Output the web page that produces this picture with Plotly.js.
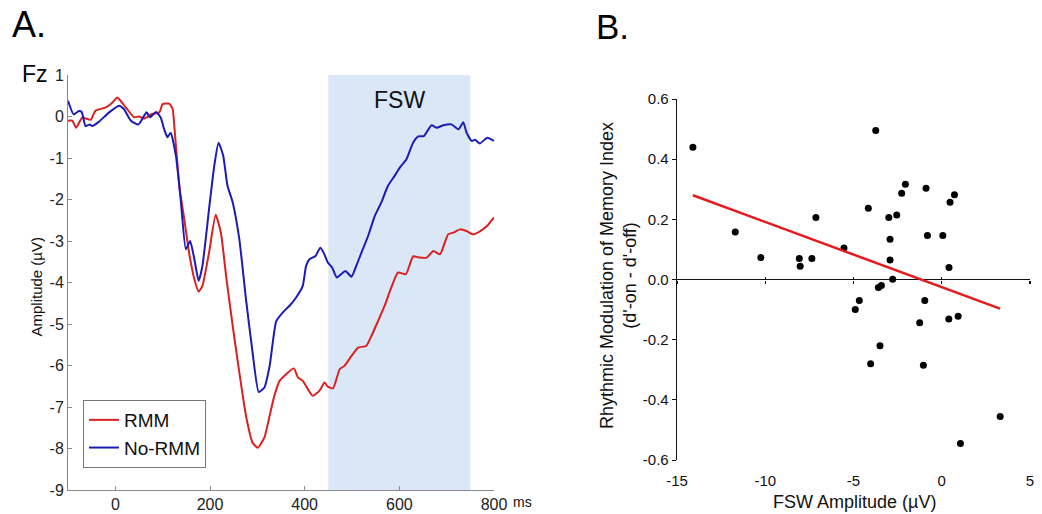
<!DOCTYPE html>
<html>
<head>
<meta charset="utf-8">
<script src="https://cdn.plot.ly/plotly-3.0.1.min.js"></script>
<style>html,body{margin:0;padding:0;background:#fff;}#chart{width:1042px;height:514px;}</style>
</head>
<body>
<div id="chart"></div>
<script>
// ---------- Panel A data (ERP at Fz) ----------
const timeRmm = [-100,-91,-83,-70,-52,-42,-20,-6,4,11,22,40,50,61,78,93,100,114,121,124,128,136,146,156,167,176,184,198,212,223,234,248,262,276,290,301,315,326,336,347,361,377,386,396,409,417,431,442,449,460,474,484,499,513,530,541,555,569,583,597,614,629,643,658,672,686,703,714,728,742,756,771,785,800];
const ampRmm  = [-0.1,-0.1,-0.27,-0.03,-0.08,0.14,0.22,0.34,0.46,0.38,0.22,-0.02,0.0,-0.05,0.06,0.10,0.30,0.31,0.18,-0.14,-0.71,-1.75,-2.5,-3.3,-3.92,-4.22,-4.08,-3.28,-2.37,-2.80,-3.84,-5.05,-6.17,-7.21,-7.86,-7.98,-7.73,-7.21,-6.73,-6.37,-6.21,-6.07,-6.29,-6.37,-6.61,-6.73,-6.61,-6.41,-6.51,-6.55,-6.09,-6.01,-5.77,-5.57,-5.53,-5.29,-4.93,-4.56,-4.12,-3.76,-3.80,-3.37,-3.40,-3.40,-3.24,-3.32,-2.84,-2.80,-2.72,-2.76,-2.84,-2.76,-2.64,-2.43];

const timeNoRmm = [-100,-88,-77,-71,-63,-54,-49,-35,-13,8,18,33,49,66,73,86,96,103,110,117,128,138,149,158,167,176,184,198,209,218,228,237,248,262,276,290,303,315,326,340,354,368,382,396,403,410,423,433,440,449,458,468,477,486,499,509,520,534,548,562,576,590,601,615,629,640,652,668,679,693,710,725,735,742,753,760,770,786,800];
const ampNoRmm  = [0.38,0.05,0.13,0.11,-0.23,-0.19,-0.23,-0.13,0.10,0.26,0.18,-0.10,-0.19,0.10,-0.02,0.11,-0.03,-0.3,-0.5,-0.39,-0.95,-1.99,-3.2,-3.0,-3.44,-3.96,-3.6,-2.23,-1.19,-0.63,-0.95,-1.67,-2.07,-2.96,-4.4,-5.69,-6.64,-6.53,-6.01,-4.93,-4.72,-4.56,-4.36,-4.08,-3.6,-3.44,-3.36,-3.16,-3.28,-3.52,-3.64,-3.88,-3.80,-3.72,-3.86,-3.60,-3.28,-2.88,-2.40,-2.07,-1.67,-1.43,-1.23,-1.03,-0.63,-0.48,-0.47,-0.21,-0.27,-0.21,-0.19,-0.31,-0.14,-0.39,-0.59,-0.56,-0.65,-0.51,-0.59];

const fswWindow = [450, 750];
const seriesNames = ["RMM", "No-RMM"];

const aXTickVals = [0, 200, 400, 600, 800];
const aYTickVals = [-9,-8,-7,-6,-5,-4,-3,-2,-1,0,1];
const aYTickText = ["-9","-8","-7","-6","-5","-4","-3","-2","-1","0","1"];

// ---------- Panel B data (scatter) ----------
const fswAmp   = [-14.1,-3.74,-11.7,-10.25,-8.07,-8.02,-7.36,-7.13,-5.54,-4.16,-3.0,-2.55,-2.93,-2.93,-2.78,-2.27,-2.06,-0.89,-0.81,0.06,0.47,0.72,0.41,-3.59,-3.42,-4.67,-4.9,-3.5,-4.03,-0.96,-1.25,-1.04,0.40,0.93,3.31,1.06];
const rmmIndex = [0.44,0.495,0.158,0.073,0.07,0.044,0.07,0.206,0.105,0.237,0.206,0.214,0.134,0.065,0.001,0.287,0.317,0.303,0.146,0.146,0.257,0.282,0.04,-0.027,-0.02,-0.07,-0.10,-0.22,-0.28,-0.07,-0.144,-0.285,-0.131,-0.122,-0.455,-0.545];
const fitX = [-14.1, 3.3];
const fitY = [0.28, -0.097];

const bXTickVals = [-15,-10,-5,0,5];
const bXTickText = ["-15","-10","-5","0","5"];
const bYTickVals = [-0.6,-0.4,-0.2,0,0.2,0.4,0.6];
const bYTickText = ["-0.6","-0.4","-0.2","0.0","0.2","0.4","0.6"];

// ---------- Build ----------
const FONT = "Liberation Sans, Arial, Helvetica, sans-serif";
const W = 1042, H = 514;
const px = v => v / W;
const py = v => 1 - v / H;

const traces = [
  {x: timeRmm, y: ampRmm, type: "scatter", mode: "lines", name: seriesNames[0],
   line: {color: "#dc1f1f", width: 2, shape: "spline", smoothing: 0.5}, xaxis: "x", yaxis: "y"},
  {x: timeNoRmm, y: ampNoRmm, type: "scatter", mode: "lines", name: seriesNames[1],
   line: {color: "#1b1bb5", width: 2, shape: "spline", smoothing: 0.5}, xaxis: "x", yaxis: "y"},
  {x: fswAmp, y: rmmIndex, type: "scatter", mode: "markers", showlegend: false,
   marker: {color: "#000", size: 7}, xaxis: "x2", yaxis: "y2"},
  {x: fitX, y: fitY, type: "scatter", mode: "lines", showlegend: false,
   line: {color: "#e8191c", width: 2.5}, xaxis: "x2", yaxis: "y2"},
  {x: [], y: [], type: "scatter", mode: "markers", showlegend: false, xaxis: "x3", yaxis: "y2", hoverinfo: "skip"},
  {x: [], y: [], type: "scatter", mode: "markers", showlegend: false, xaxis: "x4", yaxis: "y2", hoverinfo: "skip"}
];

const aDomX = [px(68), px(494)];
const aDomY = [py(490), py(75)];
const bDomX = [px(677), px(1030)];
const bDomY = [py(460), py(99)];
const zeroPos = (bDomY[0] + bDomY[1]) / 2;

const gray = "#8a8a8a";
const layout = {
  width: W, height: H,
  margin: {l: 0, r: 0, t: 0, b: 0},
  paper_bgcolor: "#fff", plot_bgcolor: "rgba(0,0,0,0)",
  font: {family: FONT, color: "#222"},
  showlegend: true,
  legend: {x: px(83), y: py(400), xanchor: "left", yanchor: "top",
           bordercolor: "#777", borderwidth: 1, bgcolor: "#fff",
           font: {size: 19, family: FONT, color: "#111"}, tracegroupgap: 0},
  xaxis: {domain: aDomX, range: [-100, 800], anchor: "y", tickvals: aXTickVals,
          ticks: "inside", ticklen: 4, tickcolor: gray, showline: true, linecolor: gray, linewidth: 1,
          showgrid: false, zeroline: false, tickfont: {size: 16, color: "#222"}, fixedrange: true},
  yaxis: {domain: aDomY, range: [-9, 1], anchor: "x", tickvals: aYTickVals, ticktext: aYTickText,
          ticks: "inside", ticklen: 4, tickcolor: gray, showline: true, linecolor: gray, linewidth: 1,
          showgrid: false, zeroline: false, tickfont: {size: 16, color: "#222"}, fixedrange: true},
  xaxis2: {domain: bDomX, range: [-15, 5], anchor: "y2", tickvals: bXTickVals, ticktext: bXTickText,
           ticks: "", showline: false, showgrid: false, zeroline: false, ticklabelstandoff: 10,
           tickfont: {size: 15, color: "#111"}, fixedrange: true},
  yaxis2: {domain: bDomY, range: [-0.6, 0.6], anchor: "x2", tickvals: bYTickVals, ticktext: bYTickText,
           ticks: "outside", ticklen: 4, tickcolor: "#111", showline: true, linecolor: "#111", linewidth: 1.3,
           showgrid: false, zeroline: true, zerolinecolor: "#111", zerolinewidth: 1.3,
           tickfont: {size: 15, color: "#111"}, fixedrange: true},
  xaxis3: {overlaying: "x2", domain: bDomX, range: [-15, 5], anchor: "free", position: zeroPos,
           tickvals: bXTickVals, ticks: "outside", ticklen: 3, tickcolor: "#111", tickwidth: 1.2,
           showticklabels: false, showline: false, showgrid: false, zeroline: false, fixedrange: true},
  xaxis4: {overlaying: "x2", domain: bDomX, range: [-15, 5], anchor: "free", position: zeroPos,
           tickvals: bXTickVals, ticks: "inside", ticklen: 3, tickcolor: "#111", tickwidth: 1.2,
           showticklabels: false, showline: false, showgrid: false, zeroline: false, fixedrange: true},
  shapes: [
    {type: "rect", xref: "x", yref: "y domain", x0: fswWindow[0], x1: fswWindow[1], y0: 0, y1: 1,
     fillcolor: "#dae7f6", line: {width: 0}, layer: "below"}
  ],
  annotations: [
    {text: "A.", xref: "paper", yref: "paper", x: px(29), y: py(24), showarrow: false,
     xanchor: "center", yanchor: "middle", font: {size: 36, color: "#000"}},
    {text: "B.", xref: "paper", yref: "paper", x: px(612), y: py(26), showarrow: false,
     xanchor: "center", yanchor: "middle", font: {size: 35, color: "#000"}},
    {text: "Fz", xref: "paper", yref: "paper", x: px(34.5), y: py(74), showarrow: false,
     xanchor: "center", yanchor: "middle", font: {size: 23, color: "#000"}},
    {text: "FSW", xref: "x", yref: "paper", x: (fswWindow[0] + fswWindow[1]) / 2, y: py(100), showarrow: false,
     xanchor: "center", yanchor: "middle", font: {size: 23, color: "#111"}},
    {text: "ms", xref: "paper", yref: "paper", x: px(522), y: py(502), showarrow: false,
     xanchor: "center", yanchor: "middle", font: {size: 14, color: "#111"}},
    {text: "Amplitude (µV)", xref: "paper", yref: "paper", x: px(35.5), y: py(287), showarrow: false,
     textangle: -90, xanchor: "center", yanchor: "middle", font: {size: 15, color: "#111"}},
    {text: "Rhythmic Modulation of Memory Index<br>(d'-on - d'-off)", xref: "paper", yref: "paper",
     x: px(618), y: py(276), showarrow: false, textangle: -90, xanchor: "center", yanchor: "middle",
     font: {size: 18, color: "#111"}},
    {text: "FSW Amplitude (µV)", xref: "paper", yref: "paper", x: px(854.5), y: py(502), showarrow: false,
     xanchor: "center", yanchor: "middle", font: {size: 18, color: "#111"}}
  ]
};

Plotly.newPlot("chart", traces, layout, {staticPlot: true, displayModeBar: false});
</script>
</body>
</html>
